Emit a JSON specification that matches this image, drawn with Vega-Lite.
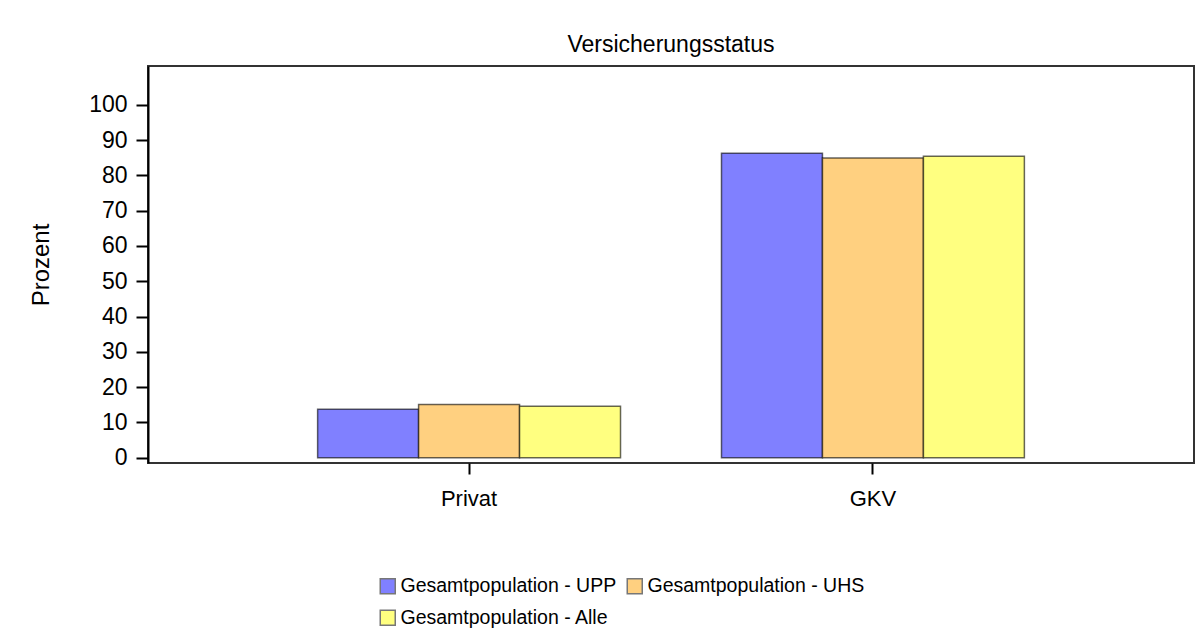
{
  "$schema": "https://vega.github.io/schema/vega-lite/v6.json",
  "autosize": {"type": "none"},
  "padding": {"left": 148, "top": 66, "right": 5, "bottom": 178},
  "width": 1046,
  "height": 397,
  "background": "white",
  "title": {
    "text": "Versicherungsstatus",
    "anchor": "middle",
    "baseline": "alphabetic",
    "offset": -9,
    "fontSize": 23,
    "fontWeight": "normal",
    "font": "Liberation Sans",
    "color": "#000000"
  },
  "config": {
    "font": "Liberation Sans",
    "view": {"stroke": "#333333", "strokeWidth": 2}
  },
  "data": {
    "values": [
      {"status": "Privat", "gruppe": "Gesamtpopulation - UPP", "prozent": 13.7},
      {"status": "Privat", "gruppe": "Gesamtpopulation - UHS", "prozent": 15.1},
      {"status": "Privat", "gruppe": "Gesamtpopulation - Alle", "prozent": 14.6},
      {"status": "GKV", "gruppe": "Gesamtpopulation - UPP", "prozent": 86.3},
      {"status": "GKV", "gruppe": "Gesamtpopulation - UHS", "prozent": 84.9},
      {"status": "GKV", "gruppe": "Gesamtpopulation - Alle", "prozent": 85.4}
    ]
  },
  "mark": {"type": "bar", "stroke": "#000000", "strokeOpacity": 0.6, "strokeWidth": 1.5},
  "encoding": {
    "x": {
      "field": "status",
      "type": "nominal",
      "sort": ["Privat", "GKV"],
      "scale": {"paddingInner": 0.25, "paddingOuter": 0.42},
      "axis": {
        "title": null,
        "labelAngle": 0,
        "labelFontSize": 22,
        "labelColor": "#000000",
        "tickSize": 11,
        "tickColor": "#000000",
        "tickWidth": 2,
        "labelPadding": 14,
        "domain": false
      }
    },
    "xOffset": {
      "field": "gruppe",
      "type": "nominal",
      "sort": ["Gesamtpopulation - UPP", "Gesamtpopulation - UHS", "Gesamtpopulation - Alle"],
      "scale": {"paddingInner": 0, "paddingOuter": 0}
    },
    "y": {
      "field": "prozent",
      "type": "quantitative",
      "scale": {"domain": [-1.5, 111], "nice": false, "zero": false},
      "axis": {
        "title": "Prozent",
        "titleFontSize": 24,
        "titleFontWeight": "normal",
        "titleColor": "#000000",
        "titlePadding": 35,
        "values": [0, 10, 20, 30, 40, 50, 60, 70, 80, 90, 100],
        "labelFontSize": 23,
        "labelColor": "#000000",
        "tickSize": 12,
        "tickColor": "#000000",
        "tickWidth": 2,
        "labelPadding": 9,
        "grid": false,
        "domain": true,
        "domainColor": "#000000",
        "domainWidth": 2
      }
    },
    "color": {
      "field": "gruppe",
      "type": "nominal",
      "scale": {
        "domain": ["Gesamtpopulation - UPP", "Gesamtpopulation - UHS", "Gesamtpopulation - Alle"],
        "range": ["#8080FF", "#FFD080", "#FFFF80"]
      },
      "legend": {
        "title": null,
        "orient": "none",
        "legendX": 230,
        "legendY": 510,
        "direction": "horizontal",
        "columns": 2,
        "columnPadding": 7,
        "rowPadding": 10,
        "padding": 0,
        "symbolType": "square",
        "symbolSize": 225,
        "symbolStrokeColor": "#777777",
        "symbolStrokeWidth": 1.5,
        "symbolOpacity": 1,
        "labelFontSize": 19.5,
        "labelColor": "#000000",
        "labelOffset": 3,
        "labelLimit": 400
      }
    }
  }
}
